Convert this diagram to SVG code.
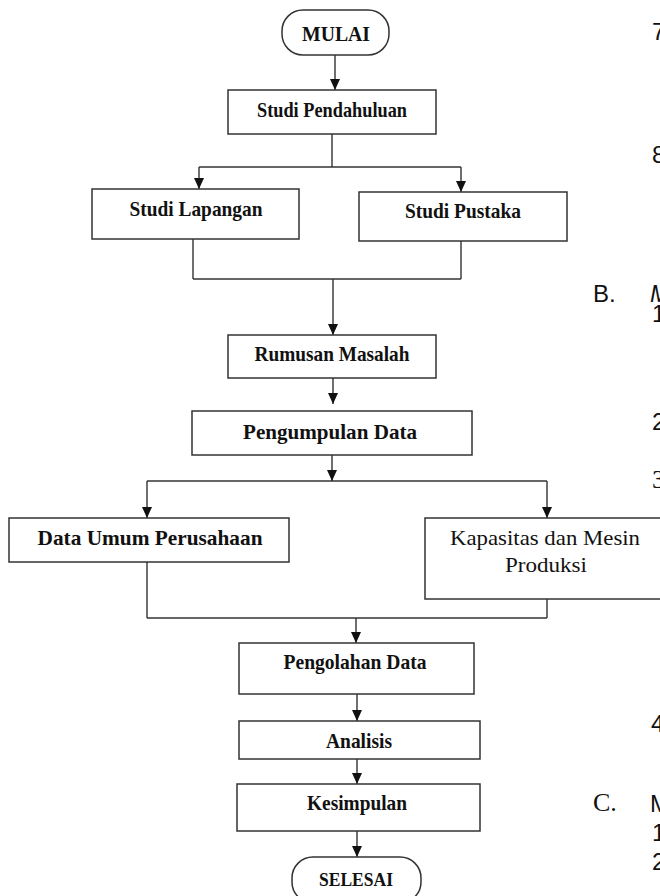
<svg xmlns="http://www.w3.org/2000/svg" width="660" height="896" viewBox="0 0 660 896">
<defs>
<marker id="ah" markerUnits="userSpaceOnUse" markerWidth="11" markerHeight="10" refX="11" refY="5" orient="auto" viewBox="0 0 11 10">
<path d="M0,0 L11,5 L0,10 Z" fill="#111"/>
</marker>
<style>
.box{fill:#fff;stroke:#333;stroke-width:1.5}
.t{font-family:"Liberation Serif","Times New Roman",serif;font-size:21px;font-weight:bold;fill:#111;text-anchor:middle}
.tn{font-weight:normal;font-size:22px}
.ln{fill:none;stroke:#333;stroke-width:1.4}
.arr{fill:none;stroke:#333;stroke-width:1.4}
.side{font-family:"Liberation Sans",Arial,sans-serif;font-size:24px;fill:#111}
.sides{font-family:"Liberation Serif","Times New Roman",serif;font-size:26px;fill:#111}
</style>
</defs>
<rect width="660" height="896" fill="#fff"/>

<g id="connectors">
<line class="ln" x1="332" y1="134" x2="332" y2="167"/>
<line class="ln" x1="199" y1="167" x2="461" y2="167"/>
<line class="ln" x1="193" y1="239" x2="193" y2="279"/>
<line class="ln" x1="461" y1="241" x2="461" y2="279"/>
<line class="ln" x1="193" y1="279" x2="461" y2="279"/>
<line class="ln" x1="147" y1="562" x2="147" y2="618"/>
<line class="ln" x1="547" y1="599" x2="547" y2="618"/>
<line class="ln" x1="147" y1="618" x2="547" y2="618"/>
<line x1="147" y1="481" x2="547" y2="481" stroke="#666" stroke-width="2"/>
<g marker-end="url(#ah)">
<line class="arr" x1="335" y1="55" x2="335" y2="90"/>
<line class="arr" x1="199" y1="167" x2="199" y2="189"/>
<line class="arr" x1="461" y1="167" x2="461" y2="192"/>
<line class="arr" x1="333" y1="279" x2="333" y2="335"/>
<line class="arr" x1="333" y1="378" x2="333" y2="404"/>
<line class="arr" x1="332" y1="455" x2="332" y2="481"/>
<line class="arr" x1="147" y1="481" x2="147" y2="518"/>
<line class="arr" x1="547" y1="481" x2="547" y2="518"/>
<line class="arr" x1="356" y1="618" x2="356" y2="643"/>
<line class="arr" x1="357" y1="694" x2="357" y2="721"/>
<line class="arr" x1="357" y1="759" x2="357" y2="784"/>
<line class="arr" x1="357" y1="831" x2="357" y2="857"/>
</g>
</g>

<g id="mulai">
<rect class="box" x="282" y="10" width="107" height="45" rx="21"/>
<text class="t" x="336" y="41" textLength="68" lengthAdjust="spacingAndGlyphs">MULAI</text>
</g>
<g id="studi-pendahuluan">
<rect class="box" x="228" y="90" width="208" height="44"/>
<text class="t" x="332" y="117" textLength="150" lengthAdjust="spacingAndGlyphs">Studi Pendahuluan</text>
</g>
<g id="studi-lapangan">
<rect class="box" x="92" y="189" width="207" height="50"/>
<text class="t" x="196" y="216" textLength="133" lengthAdjust="spacingAndGlyphs">Studi Lapangan</text>
</g>
<g id="studi-pustaka">
<rect class="box" x="359" y="192" width="208" height="49"/>
<text class="t" x="463" y="218" textLength="116" lengthAdjust="spacingAndGlyphs">Studi Pustaka</text>
</g>
<g id="rumusan-masalah">
<rect class="box" x="228" y="335" width="208" height="43"/>
<text class="t" x="332" y="361" textLength="155" lengthAdjust="spacingAndGlyphs">Rumusan Masalah</text>
</g>
<g id="pengumpulan-data">
<rect class="box" x="192" y="411" width="280" height="44"/>
<text class="t" x="330" y="439" textLength="174" lengthAdjust="spacingAndGlyphs">Pengumpulan Data</text>
</g>
<g id="data-umum">
<rect class="box" x="9" y="518" width="280" height="44"/>
<text class="t" x="150" y="545" textLength="225" lengthAdjust="spacingAndGlyphs">Data Umum Perusahaan</text>
</g>
<g id="kapasitas">
<rect class="box" x="425" y="518" width="260" height="81"/>
<text class="t tn" x="545" y="545" textLength="190" lengthAdjust="spacingAndGlyphs">Kapasitas dan Mesin</text>
<text class="t tn" x="546" y="572" textLength="82" lengthAdjust="spacingAndGlyphs">Produksi</text>
</g>
<g id="pengolahan-data">
<rect class="box" x="239" y="643" width="235" height="51"/>
<text class="t" x="355" y="669" textLength="143" lengthAdjust="spacingAndGlyphs">Pengolahan Data</text>
</g>
<g id="analisis">
<rect class="box" x="239" y="721" width="241" height="38"/>
<text class="t" x="359" y="748" textLength="66" lengthAdjust="spacingAndGlyphs">Analisis</text>
</g>
<g id="kesimpulan">
<rect class="box" x="237" y="784" width="243" height="47"/>
<text class="t" x="357" y="810" textLength="100" lengthAdjust="spacingAndGlyphs">Kesimpulan</text>
</g>
<g id="selesai">
<rect class="box" x="292" y="857" width="129" height="46" rx="21"/>
<text class="t" x="356" y="886" textLength="74" lengthAdjust="spacingAndGlyphs" style="font-size:19px">SELESAI</text>
</g>

<g id="page-text">
<text class="side" x="652" y="40">7</text>
<text class="side" x="652" y="163">8</text>
<text class="side" x="593" y="302">B.</text>
<text class="side" x="650" y="302" font-style="italic">M</text>
<text class="side" x="652" y="322">1</text>
<text class="side" x="652" y="430">2</text>
<text class="sides" x="652" y="488">3</text>
<text class="side" x="651" y="732">4</text>
<text class="sides" x="593" y="811">C.</text>
<text class="side" x="650" y="812">M</text>
<text class="side" x="652" y="841">1</text>
<text class="side" x="652" y="870">2</text>
</g>
</svg>
